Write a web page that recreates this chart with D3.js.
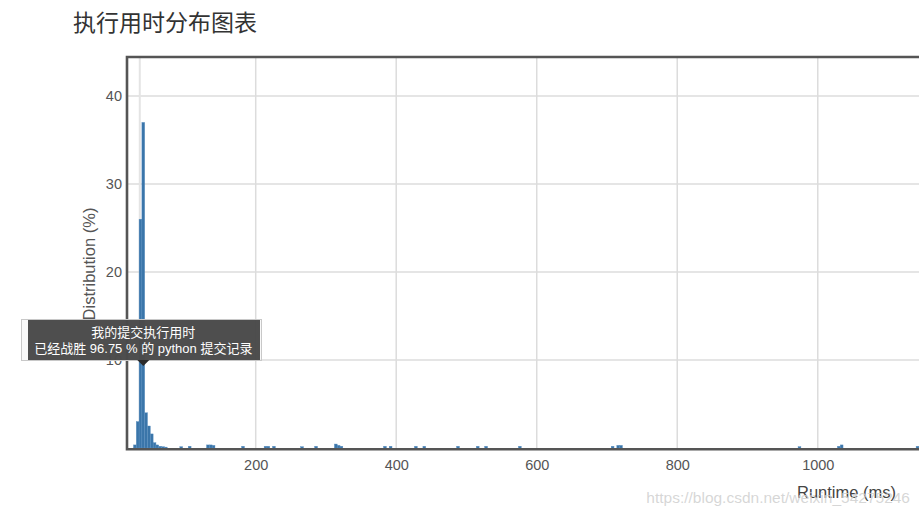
<!DOCTYPE html>
<html>
<head>
<meta charset="utf-8">
<title>执行用时分布图表</title>
<script src="https://d3js.org/d3.v7.min.js"></script>
<style>
    html, body { margin: 0; padding: 0; background: #fff; overflow: hidden; }
    svg { display: block; font-family: "Liberation Sans", Arial, sans-serif; }
</style>
</head>
<body>
<div id="chart"></div>
<script>
'use strict';

// ─── DATA ────────────────────────────────────────────────────

// bin start (ms), every bin is binWidth wide
var binStarts = [26, 30, 34, 38, 42, 46, 50, 54, 58, 62, 66, 70,
    92, 104, 130, 134, 138, 180, 212, 216, 224, 264, 284, 312, 316, 320,
    382, 390, 426, 438, 486, 514, 526, 574, 706, 714, 718, 972, 1028, 1032, 1140];
// distribution (%)
var binValues = [0.35, 3.0, 26.0, 37.0, 4.0, 2.5, 1.6, 0.6, 0.35, 0.2, 0.15, 0.1,
    0.15, 0.2, 0.35, 0.35, 0.3, 0.2, 0.2, 0.2, 0.2, 0.15, 0.2, 0.45, 0.3, 0.2,
    0.2, 0.2, 0.2, 0.2, 0.2, 0.2, 0.2, 0.2, 0.2, 0.3, 0.3, 0.15, 0.2, 0.35, 0.2];
var binWidth = 4;

var xTicks = [200, 400, 600, 800, 1000];
var yTicks = [10, 20, 30, 40];

var myRuntime = 40;        // centre of my bin
var markerLine = 35;       // light guide line
var beatPercent = '96.75';
var language = 'python';

// ─── LAYOUT ──────────────────────────────────────────────────

var width = 919;
var height = 517;
var plot = { left: 127, top: 57, right: 940, bottom: 448 };

var svg = d3.select('#chart')
    .append('svg')
    .attr('width', width)
    .attr('height', height);

var x = d3.scaleLinear()
    .domain([16.8, 1174])
    .range([plot.left, plot.right]);

var y = d3.scaleLinear()
    .domain([0, 44.43])
    .range([plot.bottom, plot.top]);

// ─── TITLE ───────────────────────────────────────────────────

svg.append('text')
    .attr('x', 73)
    .attr('y', 31)
    .attr('font-family', '"Noto Sans CJK SC", sans-serif')
    .attr('font-size', 23)
    .attr('fill', '#333')
    .text('执行用时分布图表');

// ─── GRID ────────────────────────────────────────────────────

var grid = svg.append('g').attr('class', 'grid');

grid.selectAll('line.h')
    .data(yTicks)
    .enter()
    .append('line')
    .attr('class', 'h')
    .attr('x1', plot.left)
    .attr('x2', plot.right)
    .attr('y1', function(d) { return y(d); })
    .attr('y2', function(d) { return y(d); })
    .attr('stroke', '#dcdcdc')
    .attr('stroke-width', 1.5);

grid.selectAll('line.v')
    .data(xTicks)
    .enter()
    .append('line')
    .attr('class', 'v')
    .attr('x1', function(d) { return x(d); })
    .attr('x2', function(d) { return x(d); })
    .attr('y1', plot.top)
    .attr('y2', plot.bottom)
    .attr('stroke', '#dcdcdc')
    .attr('stroke-width', 1.5);

grid.append('line')
    .attr('x1', x(markerLine))
    .attr('x2', x(markerLine))
    .attr('y1', plot.top)
    .attr('y2', plot.bottom)
    .attr('stroke', '#e4e4e4')
    .attr('stroke-width', 2);

// ─── BARS ────────────────────────────────────────────────────

var bins = binStarts.map(function(s, i) {
    return { start: s, value: binValues[i] };
});

svg.append('g')
    .attr('class', 'bars')
    .selectAll('rect')
    .data(bins)
    .enter()
    .append('rect')
    .attr('x', function(d) { return x(d.start); })
    .attr('width', function(d) { return x(d.start + binWidth) - x(d.start); })
    .attr('y', function(d) { return y(d.value); })
    .attr('height', function(d) { return y(0) - y(d.value); })
    .attr('fill', '#3a75a9')
    .attr('stroke', '#5a8fc0')
    .attr('stroke-width', 0.4);

// ─── FRAME + AXES ────────────────────────────────────────────

svg.append('path')
    .attr('d', 'M' + (plot.right + 5) + ',' + (plot.top) +
        'H' + plot.left + 'V' + (plot.bottom + 1.3) + 'H' + (plot.right + 5))
    .attr('fill', 'none')
    .attr('stroke', '#555')
    .attr('stroke-width', 2.6);

var xAxis = d3.axisBottom(x)
    .tickValues(xTicks)
    .tickFormat(d3.format('d'))
    .tickSize(0)
    .tickPadding(12);
svg.append('g')
    .attr('transform', 'translate(0,' + plot.bottom + ')')
    .call(xAxis)
    .call(function(g) { g.select('.domain').remove(); })
    .selectAll('text')
    .attr('font-size', 14.5)
    .attr('fill', '#555')
    .attr('font-family', '"Liberation Sans", Arial, sans-serif');

var yAxis = d3.axisLeft(y)
    .tickValues(yTicks)
    .tickFormat(d3.format('d'))
    .tickSize(0)
    .tickPadding(5);
svg.append('g')
    .attr('transform', 'translate(' + plot.left + ',0)')
    .call(yAxis)
    .call(function(g) { g.select('.domain').remove(); })
    .selectAll('text')
    .attr('font-size', 14.5)
    .attr('fill', '#555')
    .attr('font-family', '"Liberation Sans", Arial, sans-serif');

svg.append('text')
    .attr('transform', 'translate(95,264) rotate(-90)')
    .attr('text-anchor', 'middle')
    .attr('font-size', 16.5)
    .attr('fill', '#555')
    .text('Distribution (%)');

svg.append('text')
    .attr('x', 896)
    .attr('y', 498)
    .attr('text-anchor', 'end')
    .attr('font-size', 16.5)
    .attr('fill', '#444')
    .text('Runtime (ms)');

// ─── WATERMARK ───────────────────────────────────────────────

svg.append('text')
    .attr('x', 910)
    .attr('y', 503)
    .attr('text-anchor', 'end')
    .attr('font-size', 15.5)
    .attr('fill', '#cfcfcf')
    .attr('fill-opacity', 0.85)
    .text('https://blog.csdn.net/weixin_54275246');

// ─── TOOLTIP ─────────────────────────────────────────────────

var tipX = x(myRuntime);
var tip = svg.append('g').attr('class', 'tooltip');

tip.append('rect')
    .attr('x', 21.5)
    .attr('y', 319.5)
    .attr('width', 240)
    .attr('height', 41)
    .attr('fill', '#f3f3f3')
    .attr('fill-opacity', 0.6)
    .attr('stroke', '#c8c8c8')
    .attr('stroke-width', 1);

tip.append('rect')
    .attr('x', 28)
    .attr('y', 320)
    .attr('width', 232)
    .attr('height', 40)
    .attr('fill', '#444')
    .attr('fill-opacity', 0.95);

tip.append('path')
    .attr('d', 'M' + (tipX - 6) + ',360L' + tipX + ',366L' + (tipX + 6) + ',360Z')
    .attr('fill', '#2b2b2b');

tip.append('text')
    .attr('x', tipX)
    .attr('y', 337)
    .attr('text-anchor', 'middle')
    .attr('font-size', 13)
    .attr('fill', '#fff')
    .attr('font-family', '"Liberation Sans", "Noto Sans CJK SC", sans-serif')
    .text('我的提交执行用时');

tip.append('text')
    .attr('x', tipX)
    .attr('y', 353)
    .attr('text-anchor', 'middle')
    .attr('font-size', 13)
    .attr('fill', '#fff')
    .attr('font-family', '"Liberation Sans", "Noto Sans CJK SC", sans-serif')
    .text('已经战胜 ' + beatPercent + ' % 的 ' + language + ' 提交记录');
</script>
</body>
</html>
